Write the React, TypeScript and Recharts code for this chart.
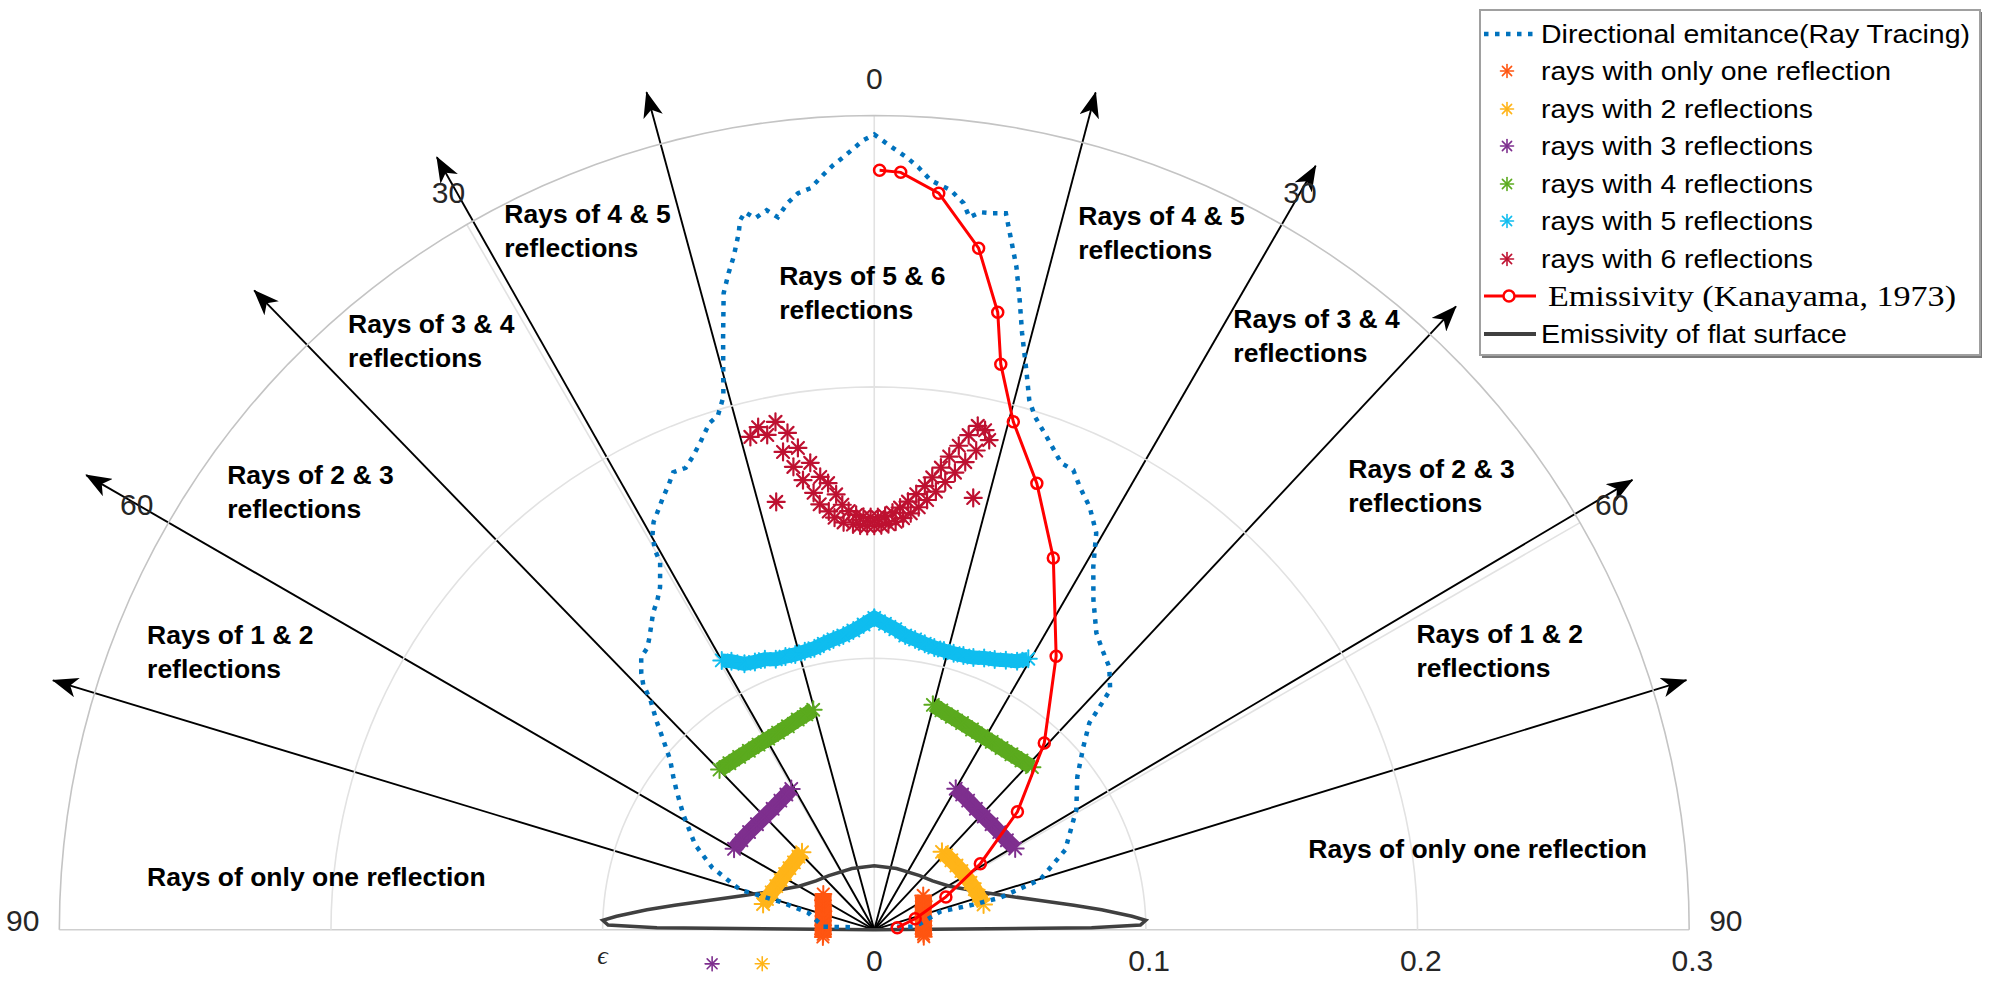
import React from "react";
import { ScatterChart, Scatter, XAxis, YAxis, ReferenceLine, Legend } from "recharts";

// readings are [angle from the vertical in degrees (right is positive), radius]
type Polar = [number, number];

const emitanceRayTracing: Polar[] = [
  [-84, 0.009], [-86.6, 0.0188], [-75.6, 0.0251], [-73.4, 0.0361], [-73.4, 0.0515], [-69, 0.0639],
  [-64.6, 0.073], [-58.9, 0.0821], [-54.7, 0.0893], [-52.7, 0.093], [-50.2, 0.0978], [-48, 0.1045],
  [-46.1, 0.1114], [-44.2, 0.1182], [-43.3, 0.124], [-42.2, 0.1277], [-40.5, 0.1321], [-38.8, 0.1333],
  [-37.6, 0.1357], [-36.4, 0.1385], [-34.9, 0.1423], [-33.3, 0.1454], [-32, 0.1488], [-30.2, 0.1567],
  [-30, 0.1615], [-29.3, 0.1668], [-28.4, 0.1708], [-27.2, 0.1739], [-26, 0.1773], [-24.8, 0.1805],
  [-23.7, 0.1841], [-22.2, 0.1838], [-21, 0.1866], [-19.7, 0.1904], [-18, 0.1963], [-16.9, 0.198],
  [-15.8, 0.204], [-14.3, 0.2253], [-13.3, 0.241], [-12.5, 0.2478], [-11.8, 0.2532], [-11, 0.2615],
  [-10.7, 0.266], [-10.2, 0.2686], [-9.5, 0.2658], [-8.5, 0.268], [-7.7, 0.2649], [-6.8, 0.2696],
  [-5.9, 0.2728], [-4.9, 0.2742], [-3.9, 0.2786], [-3.1, 0.282], [-2.3, 0.2848], [-1.5, 0.288],
  [-0.8, 0.2909], [0, 0.293], [0.9, 0.2897], [2.4, 0.2848], [3.3, 0.2814], [4.3, 0.2769],
  [5.9, 0.2739], [7, 0.2697], [7.6, 0.2648], [8.4, 0.2672], [9.3, 0.2675], [10.4, 0.2684],
  [11, 0.2615], [12.1, 0.2497], [13, 0.238], [13.9, 0.2265], [15.3, 0.2126], [16.3, 0.2033],
  [17.4, 0.198], [19.6, 0.1914], [21.8, 0.1852], [23.4, 0.1845], [24.9, 0.1798], [27, 0.1747],
  [29.2, 0.1675], [31.1, 0.1561], [33.6, 0.1458], [36.8, 0.1365], [39.2, 0.1329], [41.8, 0.1298],
  [44.5, 0.1239], [45.1, 0.1185], [46.1, 0.1099], [48.8, 0.1023], [53, 0.0936], [59.3, 0.0865],
  [67.3, 0.0762], [73.2, 0.0638], [75.7, 0.0479], [75.8, 0.0376], [74.7, 0.0252], [85.8, 0.0151],
  [80, 0.006],
];

const kanayama: Polar[] = [
  [0.4, 0.2798], [2, 0.2792], [5, 0.2724], [8.7, 0.254], [11.3, 0.232], [12.6, 0.2135],
  [15.3, 0.194], [20, 0.175], [25.7, 0.152], [33.6, 0.121], [42.3, 0.093], [50.5, 0.0683],
  [58.1, 0.046], [65.4, 0.029], [75, 0.0156], [85, 0.0085],
];

const flatSurface: Polar[] = [
  [-90, 0], [-89.5, 0.08], [-89, 0.098], [-88, 0.1], [-87, 0.095], [-85, 0.084], [-83, 0.074],
  [-80, 0.062], [-75, 0.049], [-70, 0.041], [-60, 0.032], [-50, 0.028], [-40, 0.026], [-20, 0.024],
  [0, 0.0236], [20, 0.024], [40, 0.026], [50, 0.028], [60, 0.032], [70, 0.041], [75, 0.049],
  [80, 0.062], [83, 0.074], [85, 0.084], [87, 0.095], [88, 0.1], [89, 0.098], [89.5, 0.08], [90, 0],
];

const oneLeft: Polar[] = [
  [-55, 0.0229], [-60, 0.0218], [-65, 0.0207], [-70, 0.0199], [-75, 0.0194], [-80, 0.0191],
  [-85, 0.0189], [-90, 0.0188], [-95, 0.0189], [-98, 0.0191],
];
const oneRight: Polar[] = [
  [55, 0.022], [60, 0.021], [65, 0.0199], [70, 0.0192], [75, 0.0187], [80, 0.0184],
  [85, 0.0182], [90, 0.0181], [95, 0.0182], [98, 0.0184],
];

const twoLeft: Polar[] = [
  [-77, 0.042], [-74, 0.0411], [-70, 0.0402], [-66, 0.0395], [-62, 0.039], [-58, 0.0387],
  [-54, 0.0386], [-50, 0.0386], [-46, 0.0388], [-43, 0.039],
];
const twoRight: Polar[] = [
  [41, 0.038], [44, 0.0381], [48, 0.0382], [52, 0.0384], [56, 0.0387], [60, 0.039],
  [64, 0.0394], [68, 0.0399], [72, 0.0404], [77, 0.0413],
];
const twoStray: Polar[] = [[-106.9, 0.0431]];

const threeLeft: Polar[] = [
  [-60, 0.0596], [-56, 0.059], [-52, 0.0585], [-48, 0.0581], [-44, 0.058], [-40, 0.0582],
  [-36, 0.0588], [-33, 0.0594], [-30.5, 0.0602],
];
const threeRight: Polar[] = [
  [30, 0.06], [33, 0.0594], [36, 0.0588], [40, 0.0582], [44, 0.058], [48, 0.0581],
  [52, 0.0584], [56, 0.0589], [60, 0.0599],
];
const threeStray: Polar[] = [[-101.9, 0.061]];

const fourLeft: Polar[] = [
  [-44, 0.082], [-41, 0.0813], [-38, 0.0808], [-35, 0.0805], [-32, 0.0804], [-29, 0.0805],
  [-26, 0.0808], [-23, 0.0814], [-20, 0.0824], [-17.5, 0.0832], [-15.5, 0.0841],
];
const fourRight: Polar[] = [
  [14.6, 0.0856], [17, 0.0845], [20, 0.0835], [23, 0.0827], [26, 0.0821], [29, 0.0817],
  [32, 0.0816], [35, 0.0817], [38, 0.082], [41, 0.0826], [44.1, 0.0834],
];

const fiveBand: Polar[] = [
  [-29.5, 0.114], [-28, 0.112], [-26, 0.109], [-24, 0.108], [-22, 0.1075], [-20, 0.106],
  [-18, 0.1058], [-16, 0.1055], [-14, 0.1057], [-12, 0.106], [-10, 0.107], [-8, 0.108],
  [-6, 0.109], [-4, 0.1105], [-2, 0.1125], [0, 0.1149], [2, 0.1128], [4, 0.111], [6, 0.109],
  [8, 0.108], [10, 0.107], [12, 0.1063], [14, 0.106], [16, 0.106], [18, 0.1062], [20, 0.1067],
  [22, 0.108], [24, 0.109], [26, 0.1105], [28, 0.112], [29.6, 0.1148],
];

const sixPoints: Polar[] = [
  [-14.1, 0.1872], [-13, 0.19], [-12.2, 0.1865], [-11, 0.1906], [-9.9, 0.1858], [-9, 0.1797],
  [-7.8, 0.1736], [-6.8, 0.168], [-5.9, 0.1654], [-5, 0.161], [-4.3, 0.157], [-3.5, 0.1545],
  [-2.5, 0.153], [-1.5, 0.1522], [-0.5, 0.152], [0.5, 0.152], [1.5, 0.1525], [2.5, 0.1538],
  [3.5, 0.1558], [4.5, 0.1582], [5.5, 0.1612], [6.5, 0.1645], [7.3, 0.168], [8.2, 0.172],
  [9, 0.1765], [9.9, 0.181], [10.8, 0.1855], [11.6, 0.1895], [12.5, 0.1885],
  [-10.8, 0.1792], [-9.9, 0.1731], [-9, 0.1677], [-7.9, 0.1625], [-7.3, 0.158], [-6.2, 0.155],
  [-5.5, 0.1525], [-4.3, 0.1505], [-3, 0.1495], [-2, 0.149], [-1, 0.1488], [0, 0.1488],
  [1, 0.149], [2, 0.1495], [3, 0.1505], [4, 0.152], [5, 0.154], [6, 0.1565], [7, 0.1595],
  [8, 0.163], [9, 0.167], [10, 0.171], [11, 0.1755], [12, 0.1805], [13.2, 0.1853],
  [-12.9, 0.1617], [12.9, 0.1632],
];

const arrowTips: Polar[] = [
  [-15.2, 0.3197], [-29.5, 0.327], [-44.1, 0.328], [-60, 0.335], [-73.1, 0.316],
  [14.8, 0.319], [30, 0.325], [43, 0.314], [59.3, 0.3246], [72.9, 0.3128],
];

const angleTicks = [-90, -60, -30, 0, 30, 60, 90];
const radiusTicks = [0, 0.1, 0.2, 0.3];
const gridRadii = [0.1, 0.2, 0.3];

const regionLabels = [
  { x: -0.1362, y: 0.2603, lines: ["Rays of 4 & 5", "reflections"] },
  { x: -0.1937, y: 0.2198, lines: ["Rays of 3 & 4", "reflections"] },
  { x: -0.035, y: 0.2375, lines: ["Rays of 5 & 6", "reflections"] },
  { x: -0.2382, y: 0.1642, lines: ["Rays of 2 & 3", "reflections"] },
  { x: -0.2677, y: 0.1053, lines: ["Rays of 1 & 2", "reflections"] },
  { x: -0.2677, y: 0.0162, lines: ["Rays of only one reflection"] },
  { x: 0.0751, y: 0.2596, lines: ["Rays of 4 & 5", "reflections"] },
  { x: 0.1322, y: 0.2216, lines: ["Rays of 3 & 4", "reflections"] },
  { x: 0.1745, y: 0.1664, lines: ["Rays of 2 & 3", "reflections"] },
  { x: 0.1996, y: 0.1057, lines: ["Rays of 1 & 2", "reflections"] },
  { x: 0.1598, y: 0.0265, lines: ["Rays of only one reflection"] },
];

const legendNames = [
  "Directional emitance(Ray Tracing)",
  "rays with only one reflection",
  "rays with 2 reflections",
  "rays with 3 reflections",
  "rays with 4 reflections",
  "rays with 5 reflections",
  "rays with 6 reflections",
  "Emissivity (Kanayama, 1973)",
  "Emissivity of flat surface",
];

const BLUE = "#0072BD";
const RED = "#FF0000";
const FLAT = "#404040";
const C1 = "#FF5511";
const C2 = "#FFB418";
const C3 = "#7E2F8E";
const C4 = "#5BAA1E";
const C5 = "#0FBDEF";
const C6 = "#BE1131";
const SANS = "'Liberation Sans', Arial, Helvetica, sans-serif";

const DEG = Math.PI / 180;
const toXY = ([deg, r]: Polar) => ({ x: r * Math.sin(deg * DEG), y: r * Math.cos(deg * DEG) });
const pts = (list: Polar[]) => list.map(toXY);

// grid arcs (geometry only)
const arcPoints = (r: number) => Array.from({ length: 91 }, (_, i) => toXY([-90 + i * 2, r]));

const asterisk = (color: string, size: number, width = 1.6) => (props: any) => {
  const { cx, cy } = props;
  if (cx == null || cy == null) return <g />;
  const d = size * 0.7071;
  return (
    <g stroke={color} strokeWidth={width} strokeLinecap="round">
      <line x1={cx - size} y1={cy} x2={cx + size} y2={cy} />
      <line x1={cx} y1={cy - size} x2={cx} y2={cy + size} />
      <line x1={cx - d} y1={cy - d} x2={cx + d} y2={cy + d} />
      <line x1={cx - d} y1={cy + d} x2={cx + d} y2={cy - d} />
    </g>
  );
};

const noMarker = () => <g />;

const openCircle = (props: any) => (
  <circle cx={props.cx} cy={props.cy} r={5.5} fill="none" stroke={RED} strokeWidth={2.5} />
);

const regionText = (props: any) => {
  const { cx, cy, payload } = props;
  return (
    <text x={cx} y={cy} fontFamily={SANS} fontWeight="bold" fontSize={26.5} fill="#000">
      {payload.lines.map((l: string, i: number) => (
        <tspan key={i} x={cx} dy={i === 0 ? 0 : 34}>{l}</tspan>
      ))}
    </text>
  );
};

const tickText = (size: number, italic = false) => (props: any) => (
  <text
    x={props.cx}
    y={props.cy}
    textAnchor="middle"
    dominantBaseline="central"
    fontFamily={italic ? "'Liberation Serif', 'Times New Roman', serif" : SANS}
    fontStyle={italic ? "italic" : "normal"}
    fontSize={size}
    fill="#262626"
  >
    {props.payload.text}
  </text>
);

const angleLabels = [0, 30, 60, 90].flatMap((a) => {
  const shown = a === 90 ? 89.4 : a;
  const p = toXY([shown, 0.3135]);
  return a === 0 ? [{ ...p, text: "0" }] : [{ ...p, text: String(a) }, { x: -p.x, y: p.y, text: String(a) }];
});
const radiusLabels = radiusTicks.map((r) => ({ x: r + (r > 0 ? 0.0012 : 0), y: -0.0112, text: String(r) }));
const axisName = [{ x: -0.1, y: -0.0095, text: "\u03F5" }];

const arrowLine = (props: any) => (
  <line x1={props.x1} y1={props.y1} x2={props.x2} y2={props.y2} stroke="#000" strokeWidth={1.9} markerEnd="url(#arrowHead)" />
);

const LegendBox = () => {
  const rowY = [25, 62, 100, 137, 175, 212, 250, 287, 325];
  const widths = [429, 350, 272, 272, 272, 272, 272, 408, 306];
  const starColors = [C1, C2, C3, C4, C5, C6];
  return (
    <svg width={504} height={350} style={{ display: "block" }}>
      <rect x={3} y={3} width={500} height={346} fill="#7a7a7a" />
      <rect x={1} y={1} width={500} height={345} fill="#fff" stroke="#a0a0a0" strokeWidth={2} />
      <line x1={5} y1={rowY[0]} x2={54} y2={rowY[0]} stroke={BLUE} strokeWidth={4.5} strokeDasharray="4.5 6.5" />
      {starColors.map((c, i) => (
        <g key={c}>{asterisk(c, 6.5)({ cx: 28, cy: rowY[i + 1] })}</g>
      ))}
      <line x1={5} y1={rowY[7]} x2={57} y2={rowY[7]} stroke={RED} strokeWidth={3} />
      <circle cx={30} cy={rowY[7]} r={5.5} fill="#fff" stroke={RED} strokeWidth={2.5} />
      <line x1={5} y1={rowY[8]} x2={57} y2={rowY[8]} stroke={FLAT} strokeWidth={4} />
      {legendNames.map((name, i) => (
        <text
          key={name}
          x={i === 7 ? 69 : 62}
          y={rowY[i] + (i === 7 ? 10 : 9)}
          fontFamily={i === 7 ? "'Liberation Serif', 'Times New Roman', serif" : SANS}
          fontSize={i === 7 ? 30 : 25}
          textLength={widths[i]}
          lengthAdjust="spacingAndGlyphs"
          fill="#000"
        >
          {name}
        </text>
      ))}
    </svg>
  );
};

export default function App() {
  return (
    <div style={{ position: "absolute", left: 0, top: 0, width: 2001, height: 989, background: "#fff" }}>
      <svg width={0} height={0} style={{ position: "absolute" }}>
        <defs>
          <marker id="arrowHead" markerUnits="userSpaceOnUse" markerWidth={26} markerHeight={20} refX={25} refY={10} orient="auto" viewBox="0 0 26 20">
            <path d="M0,0 L26,10 L0,20 L7,10 Z" fill="#000" />
          </marker>
        </defs>
      </svg>
      <ScatterChart width={2001} height={989} margin={{ top: 34, right: 13, bottom: 5, left: 5 }}>
        <XAxis type="number" dataKey="x" domain={[-0.32, 0.41]} allowDataOverflow hide />
        <YAxis type="number" dataKey="y" domain={[-0.02, 0.33]} allowDataOverflow hide />

        {gridRadii.map((r) => (
          <Scatter
            key={"arc" + r}
            data={arcPoints(r)}
            shape={noMarker}
            line={{ stroke: r === 0.3 ? "#c4c4c4" : "#e2e2e2", strokeWidth: 1.6 }}
            isAnimationActive={false}
          />
        ))}
        {angleTicks.map((a) => (
          <ReferenceLine
            key={"spoke" + a}
            segment={[{ x: 0, y: 0 }, toXY([a, 0.3])]}
            stroke={Math.abs(a) === 90 ? "#cfcfcf" : "#e2e2e2"}
            strokeWidth={1.6}
          />
        ))}

        <Scatter data={pts(flatSurface)} shape={noMarker} line={{ stroke: FLAT, strokeWidth: 3.5 }} isAnimationActive={false} />

        <Scatter data={pts(oneLeft)} shape={asterisk(C1, 8, 2)} line={{ stroke: C1, strokeWidth: 17 }} isAnimationActive={false} />
        <Scatter data={pts(oneRight)} shape={asterisk(C1, 8, 2)} line={{ stroke: C1, strokeWidth: 17 }} isAnimationActive={false} />
        <Scatter data={pts(twoLeft)} shape={asterisk(C2, 8.5, 2)} line={{ stroke: C2, strokeWidth: 15 }} isAnimationActive={false} />
        <Scatter data={pts(twoRight)} shape={asterisk(C2, 8.5, 2)} line={{ stroke: C2, strokeWidth: 15 }} isAnimationActive={false} />
        <Scatter data={pts(twoStray)} shape={asterisk(C2, 7)} isAnimationActive={false} />
        <Scatter data={pts(threeLeft)} shape={asterisk(C3, 8.5, 2)} line={{ stroke: C3, strokeWidth: 15 }} isAnimationActive={false} />
        <Scatter data={pts(threeRight)} shape={asterisk(C3, 8.5, 2)} line={{ stroke: C3, strokeWidth: 15 }} isAnimationActive={false} />
        <Scatter data={pts(threeStray)} shape={asterisk(C3, 7)} isAnimationActive={false} />
        <Scatter data={pts(fourLeft)} shape={asterisk(C4, 8.5, 2)} line={{ stroke: C4, strokeWidth: 15 }} isAnimationActive={false} />
        <Scatter data={pts(fourRight)} shape={asterisk(C4, 8.5, 2)} line={{ stroke: C4, strokeWidth: 15 }} isAnimationActive={false} />
        <Scatter data={pts(fiveBand)} shape={asterisk(C5, 8.5, 2)} line={{ stroke: C5, strokeWidth: 14 }} isAnimationActive={false} />
        <Scatter data={pts(sixPoints)} shape={asterisk(C6, 8.5, 2.2)} isAnimationActive={false} />

        <Scatter
          data={pts(emitanceRayTracing)}
          shape={noMarker}
          line={{ stroke: BLUE, strokeWidth: 4.5, strokeDasharray: "4.5 6.5" }}
          isAnimationActive={false}
        />
        <Scatter data={pts(kanayama)} shape={openCircle} line={{ stroke: RED, strokeWidth: 3 }} isAnimationActive={false} />

        {arrowTips.map((t, i) => (
          <ReferenceLine key={"arrow" + i} segment={[{ x: 0, y: 0 }, toXY(t)]} shape={arrowLine} />
        ))}

        <Scatter data={regionLabels} shape={regionText} isAnimationActive={false} />
        <Scatter data={angleLabels} shape={tickText(30)} isAnimationActive={false} />
        <Scatter data={radiusLabels} shape={tickText(30)} isAnimationActive={false} />
        <Scatter data={axisName} shape={tickText(26, true)} isAnimationActive={false} />

        <Legend
          layout="vertical"
          verticalAlign="middle"
          align="center"
          content={() => <LegendBox />}
          wrapperStyle={{ position: "absolute", left: 1479, top: 9, width: 504, height: 350 }}
        />
      </ScatterChart>
    </div>
  );
}
